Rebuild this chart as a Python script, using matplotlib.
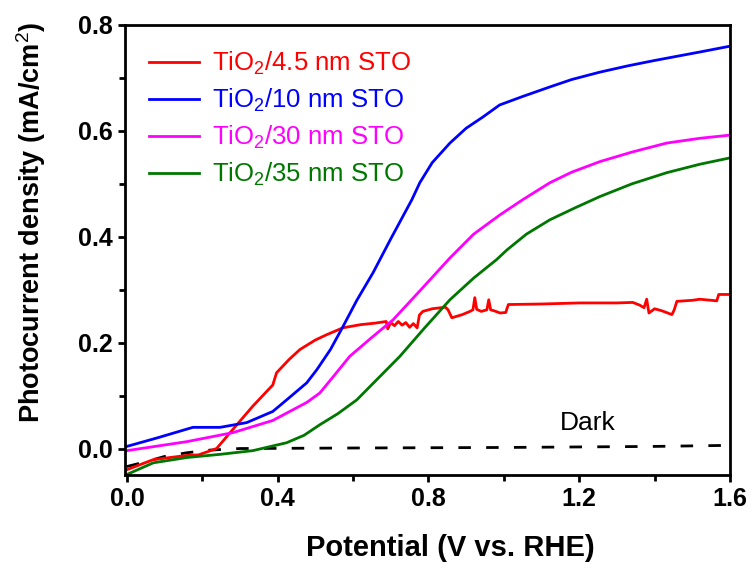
import numpy as np
import matplotlib
matplotlib.use('Agg')
import matplotlib.pyplot as plt

plt.rcParams['font.family'] = ['Liberation Sans', 'DejaVu Sans']
plt.rcParams['mathtext.fontset'] = 'custom'
plt.rcParams['mathtext.rm'] = 'Liberation Sans'
plt.rcParams['mathtext.it'] = 'Liberation Sans:italic'
plt.rcParams['mathtext.bf'] = 'Liberation Sans:bold'

# TiO2/4.5 nm STO (red)
red_x = [0, 0.07, 0.159, 0.19, 0.238, 0.281, 0.334, 0.387, 0.397, 0.43, 0.459, 0.5, 0.53, 0.573,
         0.62, 0.66, 0.688, 0.692, 0.70, 0.71, 0.72, 0.73, 0.74, 0.75, 0.76, 0.77, 0.776, 0.785,
         0.81, 0.845, 0.852, 0.862, 0.89, 0.91, 0.918, 0.923, 0.928, 0.94, 0.955, 0.96, 0.965,
         0.975, 0.99, 1.005, 1.012, 1.1, 1.2, 1.3, 1.342, 1.36, 1.372, 1.379, 1.385, 1.40, 1.42,
         1.446, 1.452, 1.459, 1.5, 1.52, 1.565, 1.57, 1.6]
red_y = [-0.04, -0.021, -0.013, -0.012, 0.0, 0.036, 0.08, 0.12, 0.143, 0.168, 0.187, 0.205, 0.215, 0.228,
         0.234, 0.237, 0.24, 0.226, 0.238, 0.232, 0.24, 0.233, 0.238, 0.229, 0.236, 0.228, 0.252, 0.259,
         0.264, 0.267, 0.262, 0.247, 0.253, 0.259, 0.262, 0.285, 0.263, 0.259, 0.262, 0.281, 0.262,
         0.26, 0.256, 0.257, 0.272, 0.273, 0.275, 0.275, 0.276, 0.271, 0.266, 0.282, 0.256, 0.264, 0.26,
         0.253, 0.262, 0.278, 0.28, 0.282, 0.279, 0.291, 0.291]

# TiO2/10 nm STO (blue)
blue_x = [0, 0.08, 0.175, 0.247, 0.318, 0.387, 0.424, 0.477, 0.504, 0.54, 0.573, 0.61, 0.653, 0.7,
          0.756, 0.777, 0.81, 0.857, 0.9, 0.944, 0.989, 1.05, 1.122, 1.18, 1.255, 1.33, 1.4, 1.52, 1.6]
blue_y = [0.004, 0.02, 0.04, 0.04, 0.049, 0.07, 0.092, 0.124, 0.149, 0.187, 0.23, 0.28, 0.332, 0.396,
          0.47, 0.502, 0.54, 0.577, 0.605, 0.626, 0.649, 0.665, 0.683, 0.697, 0.711, 0.723, 0.733, 0.749, 0.76]

# TiO2/30 nm STO (magenta)
mag_x = [0, 0.159, 0.281, 0.387, 0.477, 0.512, 0.55, 0.591, 0.65, 0.706, 0.78, 0.857, 0.92, 0.989,
         1.05, 1.122, 1.18, 1.255, 1.34, 1.432, 1.52, 1.6]
mag_y = [-0.004, 0.013, 0.03, 0.053, 0.087, 0.105, 0.138, 0.174, 0.21, 0.243, 0.30, 0.36, 0.405, 0.441,
         0.47, 0.502, 0.522, 0.542, 0.56, 0.577, 0.586, 0.592]

# TiO2/35 nm STO (green)
grn_x = [0, 0.07, 0.159, 0.247, 0.334, 0.424, 0.47, 0.512, 0.56, 0.61, 0.66, 0.724, 0.79, 0.857,
         0.92, 0.981, 1.008, 1.06, 1.122, 1.19, 1.255, 1.34, 1.432, 1.52, 1.6]
grn_y = [-0.049, -0.027, -0.017, -0.011, -0.004, 0.011, 0.025, 0.045, 0.066, 0.092, 0.128, 0.174,
         0.228, 0.281, 0.322, 0.357, 0.375, 0.405, 0.432, 0.455, 0.476, 0.5, 0.521, 0.537, 0.549]

# Dark current
dark_x = [0, 0.05, 0.1, 0.159, 0.22, 0.3, 0.6, 1.0, 1.4, 1.6]
dark_y = [-0.034, -0.025, -0.015, -0.008, -0.003, 0.0, 0.001, 0.002, 0.004, 0.006]

fig = plt.figure(figsize=(7.53, 5.69), dpi=100)
ax = fig.add_axes([125 / 753, 1 - 475 / 569, 605 / 753, 450 / 569])

ax.plot(dark_x, dark_y, color='black', lw=2, dashes=(4.5, 5.5))
ax.plot(red_x, red_y, color='#ff0000', lw=2, label='TiO$_2$/4.5 nm STO')
ax.plot(blue_x, blue_y, color='#0000ff', lw=2, label='TiO$_2$/10 nm STO')
ax.plot(mag_x, mag_y, color='#ff00ff', lw=2, label='TiO$_2$/30 nm STO')
ax.plot(grn_x, grn_y, color='#007700', lw=2, label='TiO$_2$/35 nm STO')

ax.text(1.149, 0.049, 'Dark', fontsize=19, va='center', ha='left')

ax.set_xlim(-0.005, 1.6)
ax.set_ylim(-0.05, 0.8)
ax.set_xticks([0.0, 0.4, 0.8, 1.2, 1.6])
ax.set_xticks([0.2, 0.6, 1.0, 1.4], minor=True)
ax.set_yticks([0.0, 0.2, 0.4, 0.6, 0.8])
ax.set_yticks([0.1, 0.3, 0.5, 0.7], minor=True)
ax.xaxis.set_major_formatter(matplotlib.ticker.FormatStrFormatter('%.1f'))
ax.yaxis.set_major_formatter(matplotlib.ticker.FormatStrFormatter('%.1f'))

for s in ax.spines.values():
    s.set_linewidth(2)
ax.tick_params(which='major', direction='out', length=5, width=2, labelsize=18, pad=4)
ax.tick_params(which='minor', direction='out', length=4, width=2)
for lab in ax.get_xticklabels() + ax.get_yticklabels():
    lab.set_fontweight('bold')

ax.set_xlabel('Potential (V vs. RHE)', fontsize=21, fontweight='bold')
ax.set_ylabel('Photocurrent density (mA/cm$^2$)', fontsize=19.5, fontweight='bold')
ax.xaxis.set_label_coords(0.537, -0.13)
ax.yaxis.set_label_coords(-0.128, 0.562)

leg = ax.legend(loc='upper left', bbox_to_anchor=(0.04, 0.945), frameon=False, fontsize=18.5,
                handlelength=1.95, handletextpad=0.5, labelspacing=0.38, borderaxespad=0,
                borderpad=0, labelcolor='linecolor')

plt.savefig('out.png', dpi=100)
plt.close()
